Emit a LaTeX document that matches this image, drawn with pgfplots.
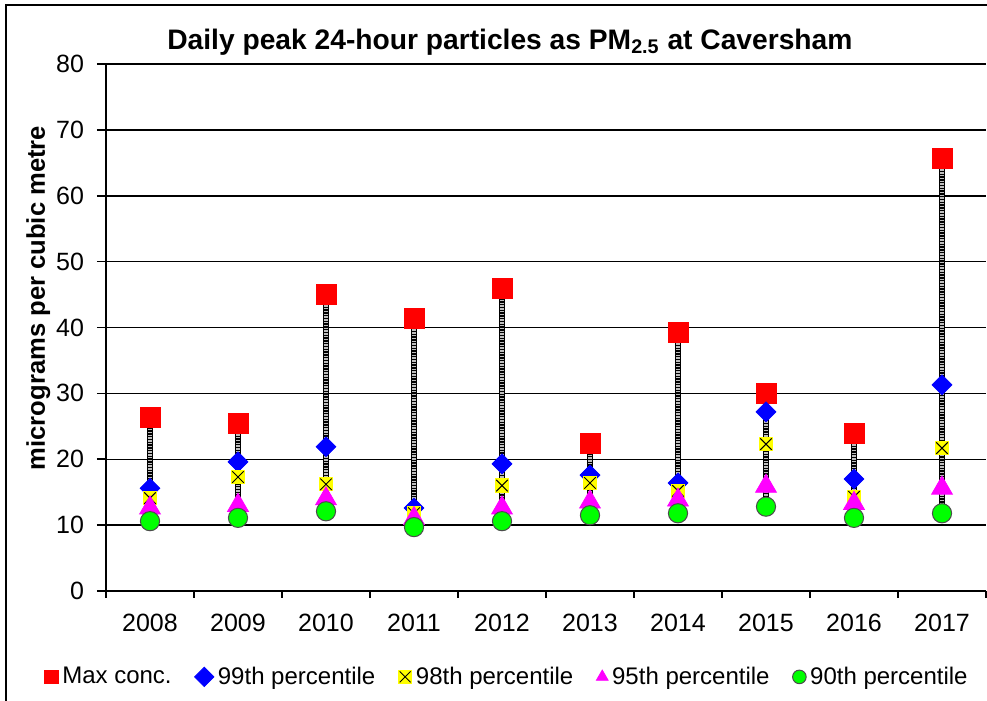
\documentclass[border=0pt]{standalone}
\usepackage{fontspec}
\setmainfont{Liberation Sans}
\usepackage{pgfplots}
\usepackage{pgfplotstable}
\pgfplotsset{compat=1.18}
\definecolor{xred}{RGB}{255,0,0}
\definecolor{xblue}{RGB}{0,0,255}
\definecolor{xyellow}{RGB}{255,255,0}
\definecolor{xmag}{RGB}{255,0,255}
\definecolor{xgreen}{RGB}{0,255,0}
\pgfdeclareplotmark{xsq}{%
  \pgfpathrectangle{\pgfpoint{-\pgfplotmarksize}{-\pgfplotmarksize}}{\pgfpoint{2\pgfplotmarksize}{2\pgfplotmarksize}}%
  \pgfusepathqfill
  \pgfpathmoveto{\pgfpoint{-0.8\pgfplotmarksize}{-0.8\pgfplotmarksize}}%
  \pgfpathlineto{\pgfpoint{0.8\pgfplotmarksize}{0.8\pgfplotmarksize}}%
  \pgfpathmoveto{\pgfpoint{-0.8\pgfplotmarksize}{0.8\pgfplotmarksize}}%
  \pgfpathlineto{\pgfpoint{0.8\pgfplotmarksize}{-0.8\pgfplotmarksize}}%
  \pgfusepathqstroke}
\pgfplotstableread{
x max p99 p98 p95 p90
0 26.3 15.6 14.1 12.6 10.6
1 25.5 19.6 17.3 13.0 11.1
2 45.1 21.9 16.2 14.0 12.1
3 41.4 12.6 11.8 11.0 9.7
4 45.9 19.3 16.0 12.6 10.6
5 22.4 17.6 16.4 13.5 11.5
6 39.3 16.4 15.2 13.8 11.8
7 30.0 27.2 22.3 15.9 12.8
8 24.0 17.0 14.3 13.3 11.1
9 65.7 31.3 21.7 15.6 11.8
}\data
\begin{document}
\begin{tikzpicture}
\useasboundingbox (-53pt,-55pt) rectangle (440.5pt,295.5pt);
\draw[line width=0.9pt] (-50pt,-80pt) -- (-50pt,293pt) -- (470pt,293pt);
\begin{axis}[
  at={(0,0)}, anchor=south west,
  scale only axis, width=440pt, height=263.5pt,
  xmin=-0.5, xmax=9.5, ymin=0, ymax=80,
  axis x line=bottom, axis y line=left,
  axis line style={-, line width=0.8pt, black},
  xtick={0,...,9},
  xticklabels={2008,2009,2010,2011,2012,2013,2014,2015,2016,2017},
  minor xtick={-0.5,0.5,...,9.5},
  ytick={0,10,...,80},
  tick align=outside,
  major tick length=4.5pt,
  minor tick length=3.5pt,
  major x tick style={draw=none},
  every tick/.style={black, line width=0.8pt},
  ymajorgrids, grid style={black, line width=0.75pt},
  /pgf/number format/assume math mode=true,
  tick label style={font=\fontsize{12.5}{14}\selectfont},
  xticklabel style={yshift=-3.5pt},
  yticklabel style={xshift=-3pt},
  title={\textbf{Daily peak 24-hour particles as PM\textsubscript{2.5} at Caversham}},
  title style={at={(0.459,1)}, anchor=center, yshift=5pt, font=\fontsize{14.1}{16}\selectfont},
  ylabel={\textbf{micrograms per cubic metre}},
  ylabel style={at={(axis description cs:-0.077,0.556)}, anchor=center, font=\fontsize{12.8}{15}\selectfont},
  legend style={draw=none, at={(0.457,-0.163)}, anchor=center, font=\fontsize{12}{14}\selectfont,
    /tikz/every even column/.append style={column sep=9.5pt}},
  legend columns=5,
  legend cell align=left,
  legend image code/.code={\draw[#1, mark size=3.4pt] plot coordinates {(0cm,0cm)};},
  clip=false,
]
% stems (high-low lines)
\addplot[forget plot, only marks, mark=none,
  error bars/.cd, y dir=minus, y explicit, error mark=none,
  error bar style={line width=3pt, black}]
  table[x=x, y=max, y error expr=\thisrow{max}-\thisrow{p90}] {\data};
\addplot[forget plot, only marks, mark=none,
  error bars/.cd, y dir=minus, y explicit, error mark=none,
  error bar style={line width=2pt, white!75!black, dash pattern=on 0.7pt off 0.7pt}]
  table[x=x, y=max, y error expr=\thisrow{max}-\thisrow{p90}] {\data};
\addplot[only marks, mark=square*, mark size=5pt, mark options={fill=xred, draw=xred}]
  table[x=x, y=max] {\data};
\addlegendentry{Max conc.}
\addplot[only marks, mark=square*, mark size=3.5pt, mark options={fill=xblue, draw=xblue, rotate=45}]
  table[x=x, y=p99] {\data};
\addlegendentry{99th percentile}
\addplot[only marks, mark=xsq, mark size=3.6pt, mark options={fill=xyellow, draw=black, line width=0.5pt}]
  table[x=x, y=p98] {\data};
\addlegendentry{98th percentile}
\addplot[only marks, mark=triangle*, mark size=6pt, mark options={fill=xmag, draw=xmag}]
  table[x=x, y=p95] {\data};
\addlegendentry{95th percentile}
\addplot[only marks, mark=*, mark size=4.8pt, mark options={fill=xgreen, draw=black!70, line width=0.5pt}]
  table[x=x, y=p90] {\data};
\addlegendentry{90th percentile}
\end{axis}
\end{tikzpicture}
\end{document}
